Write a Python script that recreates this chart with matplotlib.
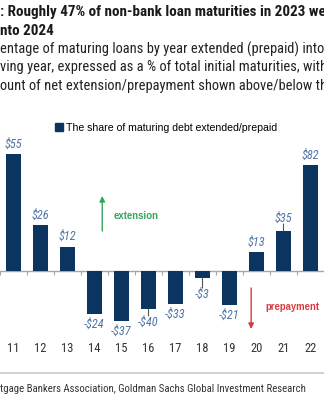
import matplotlib
matplotlib.use("Agg")
import matplotlib.pyplot as plt
from matplotlib.patches import Patch

# -----------------------------
# Data
# -----------------------------
years = [11, 12, 13, 14, 15, 16, 17, 18, 19, 20, 21, 22]
share_pct = [41, 16, 8.5, -15, -17.5, -13.3, -11.5, -2.5, -12, 6.5, 14, 37]
dollar_labels = ["$55", "$26", "$12", "-$24", "-$37", "-$40", "-$33", "-$3",
                 "-$21", "$13", "$35", "$82"]
# bars whose label sits further away with a small leader line
leader_years = [16, 18, 21]

navy = "#0c3461"
label_blue = "#4f73a3"
green = "#33a65c"
red = "#d93a40"

cond = ["Roboto Condensed", "DejaVu Sans"]
plt.rcParams["font.family"] = ["Liberation Sans", "DejaVu Sans"]

W, H = 324, 400
fig = plt.figure(figsize=(W / 100, H / 100), dpi=100)
renderer = fig.canvas.get_renderer()

def fx(px):
    return px / W

def fy(py):
    return 1 - py / H

def fit_text(x, y, visible, width_px, size, rest="", **kw):
    # size the visible part of a cropped line to the width it has in the picture
    t = fig.text(fx(x), fy(y), visible, fontsize=size, va="center", **kw)
    w = t.get_window_extent(renderer).width
    new_size = size * width_px / w
    t.set_text(visible + rest)
    t.set_fontsize(new_size)
    return new_size

# -----------------------------
# Title / subtitle (cropped at both sides)
# -----------------------------
ts = fit_text(0, 12, ": Roughly 47% of non-bank loan maturities in 2023 we", 325, 11,
              rest="re extended", family=cond, weight="bold", color="#1a1a1a")
fig.text(fx(0), fy(31), "nto 2024", fontsize=ts, weight="bold", color="#1a1a1a",
         va="center", family=cond)
fit_text(0, 49, "entage of maturing loans by year extended (prepaid) into", 322, 10,
         rest=" the", family=cond, color="#222222")
fit_text(0, 67, "ving year, expressed as a % of total initial maturities, with", 324, 10,
         rest=" the", family=cond, color="#222222")
fit_text(0, 86, "ount of net extension/prepayment shown above/below th", 324, 10,
         rest="e bars", family=cond, color="#222222")

# -----------------------------
# Bars
# -----------------------------
x_left = 10.5
px_per_year = 27.2
pct_per_px = 0.35
ax = fig.add_axes([0, fy(340), 1, fy(140) - fy(340)])
ax.set_xlim(x_left, x_left + W / px_per_year)
ax.set_ylim(-(340 - 271) * pct_per_px, (271 - 140) * pct_per_px)

ax.bar(years, share_pct, width=0.56, color=navy, zorder=2)
ax.axhline(0, color="#a6a6a6", lw=1.0, zorder=1)

for s in ax.spines.values():
    s.set_visible(False)
ax.spines["bottom"].set_position(("data", 0))
ax.set_yticks([])
ax.set_xticks([y + 0.5 for y in range(10, 23)], minor=True)
ax.set_xticks(years)
ax.set_xticklabels([str(y) for y in years])
ax.tick_params(axis="x", which="minor", length=3, width=0.8, color="#a6a6a6",
               direction="out")
ax.tick_params(axis="x", which="major", length=0, pad=(342 - 271) * 0.72,
               labelsize=9, labelcolor="#333333")
for lab in ax.get_xticklabels():
    lab.set_family(cond)

for yr, v, lab in zip(years, share_pct, dollar_labels):
    sign = 1 if v >= 0 else -1
    off = 10
    if yr in leader_years:
        off = 16 if yr == 18 else 13
    ax.annotate(lab, xy=(yr, v), xytext=(0, sign * off * 0.72),
                textcoords="offset points", ha="center", va="center",
                fontsize=8.8, style="italic", color=label_blue, family=cond,
                annotation_clip=False)
    if yr in leader_years:
        ax.annotate("", xy=(yr, v), xytext=(0, sign * (off - 6) * 0.72),
                    textcoords="offset points",
                    arrowprops=dict(arrowstyle="-", color="#555555", lw=0.8,
                                    shrinkA=0, shrinkB=0),
                    annotation_clip=False)

# extension / prepayment arrows
gx = 14.0 + (103 - 95.2) / px_per_year
ax.annotate("", xy=(gx, (271 - 196) * pct_per_px), xytext=(gx, (271 - 231) * pct_per_px),
            arrowprops=dict(arrowstyle="-|>", color=green, lw=1.0, mutation_scale=8,
                            shrinkA=0, shrinkB=0))
rx = 20.0 + (253 - 258.4) / px_per_year
ax.annotate("", xy=(rx, -(329 - 271) * pct_per_px), xytext=(rx, -(288 - 271) * pct_per_px),
            arrowprops=dict(arrowstyle="-|>", color=red, lw=1.0, mutation_scale=8,
                            shrinkA=0, shrinkB=0),
            annotation_clip=False)

t = ax.text(14.0 + (114 - 95.2) / px_per_year, (271 - 216) * pct_per_px, "extension",
            color=green, fontsize=7, weight="bold", va="center", ha="left")
t.set_fontsize(7 * 45 / t.get_window_extent(renderer).width)
t = ax.text(20.0 + (267 - 258.4) / px_per_year, -(307 - 271) * pct_per_px, "prepayment",
            color=red, fontsize=7, weight="bold", va="center", ha="left")
t.set_fontsize(7 * 54 / t.get_window_extent(renderer).width)

# legend
probe = fig.text(0, 0, "The share of maturing debt extended/prepaid", fontsize=7)
leg_size = 7 * 210 / probe.get_window_extent(renderer).width
probe.remove()
fig.legend(handles=[Patch(color=navy, label="The share of maturing debt extended/prepaid")],
           loc="center", bbox_to_anchor=(fx(166), fy(128)), frameon=False,
           prop=dict(size=leg_size), handlelength=0.75, handleheight=0.75,
           handletextpad=0.35, borderpad=0)

# -----------------------------
# Footer
# -----------------------------
fig.add_artist(plt.Line2D([0, 1], [fy(373), fy(373)], color="#c8c8c8", lw=1.2))
fit_text(0, 389, "tgage Bankers Association, Goldman Sachs Global Investment Research",
         308, 9, family=cond, color="#333333")

fig.savefig("out.png", dpi=100)
